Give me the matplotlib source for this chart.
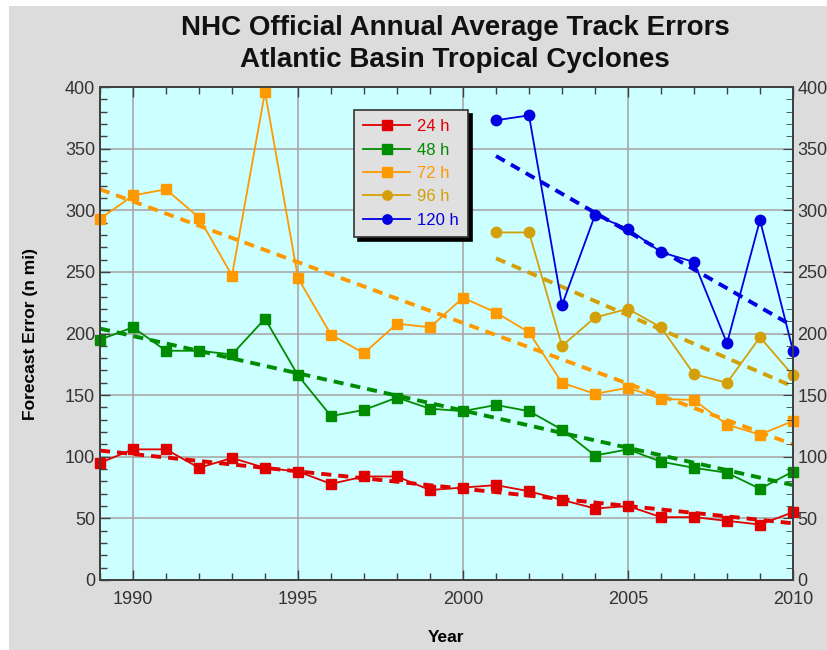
import matplotlib
matplotlib.use("Agg")
import matplotlib.pyplot as plt
from matplotlib.patches import Rectangle
from matplotlib.ticker import MultipleLocator

years = list(range(1989, 2011))
years_late = list(range(2001, 2011))

err_24 = [95, 106, 106, 91, 99, 91, 88, 78, 84, 84, 73, 75, 77, 72, 65, 58, 60, 51, 51, 48, 45, 55]
err_48 = [195, 205, 186, 186, 183, 212, 166, 133, 138, 148, 139, 137, 142, 137, 122, 101, 106, 96, 91, 87, 74, 88]
err_72 = [293, 312, 317, 294, 247, 396, 245, 199, 184, 208, 205, 229, 217, 201, 160, 151, 156, 147, 146, 126, 118, 129]
err_96 = [282, 282, 190, 213, 220, 205, 167, 160, 197, 166]
err_120 = [373, 377, 223, 296, 285, 266, 258, 192, 292, 186]

# trend line endpoints (start year, end year)
trend_years = [1989, 2010]
trend_years_late = [2001, 2010]
trend_24 = [105, 46]
trend_48 = [204, 77]
trend_72 = [317, 110]
trend_96 = [261, 157]
trend_120 = [344, 206]

labels = ["24 h", "48 h", "72 h", "96 h", "120 h"]
colors = ["#e00000", "#008c00", "#ff9900", "#d4a00a", "#0000e0"]

plt.rcParams["font.family"] = ["Liberation Sans", "DejaVu Sans"]

fig = plt.figure(figsize=(8.27, 6.5), dpi=100, facecolor="white")
fig.patches.append(Rectangle((9 / 827, 0), 1, 1 - 6 / 650, transform=fig.transFigure,
                             facecolor="#dcdcdc", edgecolor="none", zorder=-10))

ax = fig.add_axes([100 / 827, 1 - 580 / 650, 693 / 827, 493 / 650])
ax.set_facecolor("#ccffff")

series = [
    (years, err_24, trend_years, trend_24, "s"),
    (years, err_48, trend_years, trend_48, "s"),
    (years, err_72, trend_years, trend_72, "s"),
    (years_late, err_96, trend_years_late, trend_96, "o"),
    (years_late, err_120, trend_years_late, trend_120, "o"),
]
handles = []
for (xs, ys, tx, ty, mk), c, lab in zip(series, colors, labels):
    ax.plot(tx, ty, color=c, lw=2.8, ls=(0, (2.6, 1.8)), zorder=3)
    h, = ax.plot(xs, ys, color=c, lw=1.3, marker=mk, ms=7.5, mec=c, mfc=c,
                 label=lab, zorder=4, clip_on=False)
    handles.append(h)

ax.set_xlim(1989, 2010)
ax.set_ylim(0, 400)
ax.xaxis.set_major_locator(MultipleLocator(5))
ax.xaxis.set_minor_locator(MultipleLocator(1))
ax.yaxis.set_major_locator(MultipleLocator(50))
ax.yaxis.set_minor_locator(MultipleLocator(10))
ax.grid(True, which="major", color="#a8a8a8", lw=1.2, zorder=0)
ax.set_axisbelow(True)
ax.tick_params(which="both", direction="in", top=True, right=False,
               colors="#404040", labelcolor="#333333", labelsize=13)
ax.tick_params(which="major", length=7, width=1)
ax.tick_params(which="minor", length=5, width=1)
ax.tick_params(axis="x", pad=8)
for s in ax.spines.values():
    s.set_color("#404040")
    s.set_linewidth(1.3)

ax2 = ax.twinx()
ax2.set_ylim(0, 400)
ax2.yaxis.set_major_locator(MultipleLocator(50))
ax2.yaxis.set_minor_locator(MultipleLocator(10))
ax2.tick_params(which="both", direction="in", colors="#404040",
                labelcolor="#333333", labelsize=13, pad=3)
ax2.tick_params(which="major", length=7)
ax2.tick_params(which="minor", length=5)
for s in ax2.spines.values():
    s.set_color("#404040")
    s.set_linewidth(1.3)

ax.set_xlabel("Year", fontsize=12.5, fontweight="bold", labelpad=16)
ax.set_ylabel("Forecast Error (n mi)", fontsize=12.5, fontweight="bold", labelpad=19)

leg = ax2.legend(handles=handles, loc="upper left",
                 bbox_to_anchor=((354 - 100) / 693, (580 - 110) / 493),
                 borderaxespad=0, frameon=True, fancybox=False,
                 shadow={"color": "black", "alpha": 1, "ox": 3, "oy": -3},
                 facecolor="#e0e0e0", edgecolor="#333333", framealpha=1,
                 fontsize=12, handlelength=2.8, handletextpad=0.45, labelspacing=0.5,
                 borderpad=0.55, markerscale=0.9)
leg.get_frame().set_linewidth(1.2)
for t, c in zip(leg.get_texts(), colors):
    t.set_color(c)

fig.text(455 / 827, 1 - 44 / 650, "NHC Official Annual Average Track Errors\nAtlantic Basin Tropical Cyclones",
         ha="center", va="center", fontsize=20, fontweight="bold",
         linespacing=1.3, color="#111111")

fig.savefig("out.png", dpi=100, facecolor=fig.get_facecolor())
